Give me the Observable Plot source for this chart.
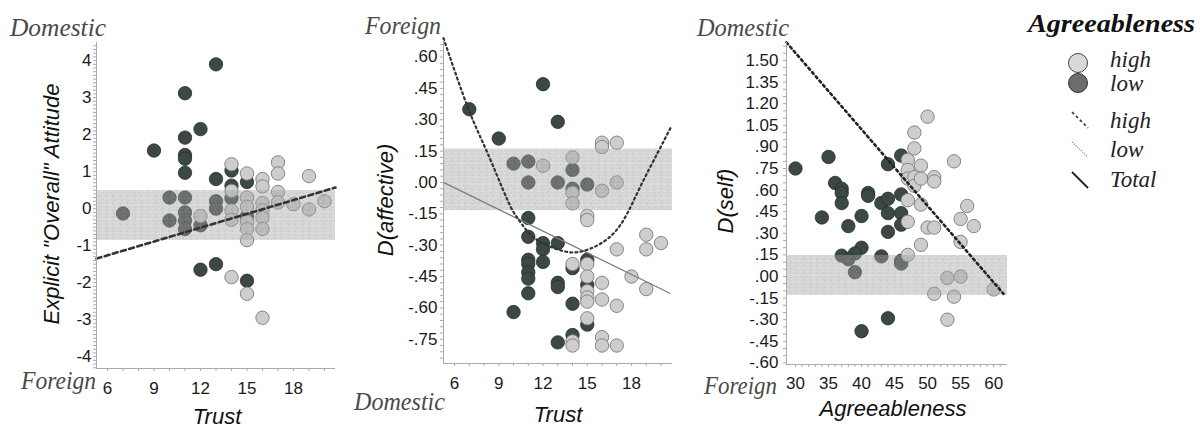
<!DOCTYPE html>
<html><head><meta charset="utf-8">
<script src="https://cdn.jsdelivr.net/npm/d3@7"></script>
<script src="https://cdn.jsdelivr.net/npm/@observablehq/plot@0.6"></script>
<style>
body{margin:0;background:#fff;}
#root{position:relative;width:1203px;height:429px;overflow:hidden;}
.panel{position:absolute;top:0;}
#overlay{position:absolute;left:0;top:0;pointer-events:none;}
#defs{position:absolute;left:0;top:0;}
</style></head><body><div id="root">
<svg id="defs" width="0" height="0"><defs>
<pattern id="speckle" patternUnits="userSpaceOnUse" width="7" height="7">
<rect width="7" height="7" fill="#a3a3a3"/>
<rect x="1" y="0" width="1" height="1" fill="#7e7e7e"/>
<rect x="4" y="2" width="1" height="1" fill="#c9c9c9"/>
<rect x="2" y="4" width="1" height="1" fill="#868686"/>
<rect x="5" y="5" width="1" height="1" fill="#c4c4c4"/>
<rect x="6" y="1" width="1" height="1" fill="#c0c0c0"/>
<rect x="0" y="6" width="1" height="1" fill="#8a8a8a"/>
<rect x="3" y="1" width="1" height="1" fill="#b8b8b8"/>
<rect x="5" y="3" width="1" height="1" fill="#8e8e8e"/>
</pattern></defs></svg>
</div>
<script>
// ---------- Panel 1: Trust vs Explicit "Overall" Attitude ----------
const attitudeLow = [[7,-0.13],[9,1.57],[10,0.3],[10,-0.32],[11,3.12],[11,1.92],[11,1.45],[11,1.35],[11,0.97],[11,0.3],[11,-0.1],[11,-0.32],[11,-0.55],[12,2.15],[12,-0.45],[12,-1.65],[13,3.9],[13,0.8],[13,0.2],[13,0.0],[13,-1.5],[14,1.03],[14,0.62],[14,0.28],[15,0.72],[15,-0.2],[15,-1.95]];
const attitudeHigh = [[12,-0.2],[14,1.2],[14,0.48],[14,-0.05],[14,-0.3],[14,-1.85],[15,0.95],[15,0.3],[15,0.05],[15,-0.35],[15,-0.55],[15,-0.85],[15,-2.3],[16,0.8],[16,0.6],[16,0.15],[16,-0.05],[16,-0.25],[16,-0.55],[16,-2.95],[17,1.25],[17,0.95],[17,0.45],[17,0.17],[18,0.12],[19,0.88],[19,-0.02],[20,0.2]];
const attitudeBand = [-0.86, 0.49];
const attitudeFit = [[5.29,-1.35],[20.71,0.57]];
const attitudeYTicks = [-4,-3,-2,-1,0,1,2,3,4];
const trustTicks = [6,9,12,15,18];

// ---------- Panel 2: Trust vs D(affective) ----------
const affectiveLow = [[7,0.35],[9,0.21],[10,0.09],[10,-0.62],[11,0.1],[11,0.0],[11,-0.17],[11,-0.26],[11,-0.37],[11,-0.39],[11,-0.43],[11,-0.46],[11,-0.53],[12,0.47],[12,-0.29],[12,-0.32],[12,-0.38],[13,0.29],[13,0.0],[13,-0.29],[13,-0.48],[13,-0.5],[13,-0.765],[14,0.06],[14,-0.03],[14,-0.41],[14,-0.58],[14,-0.73],[15,-0.01],[15,-0.37],[15,-0.49],[15,-0.68]];
const affectiveHigh = [[12,0.08],[14,0.12],[14,-0.05],[14,-0.1],[14,-0.39],[14,-0.76],[14,-0.78],[15,-0.16],[15,-0.18],[15,-0.39],[15,-0.45],[15,-0.52],[15,-0.55],[15,-0.57],[15,-0.65],[16,0.19],[16,0.17],[16,-0.04],[16,-0.48],[16,-0.56],[16,-0.74],[16,-0.78],[17,0.19],[17,0.0],[17,-0.32],[17,-0.59],[17,-0.78],[18,-0.45],[19,-0.25],[19,-0.32],[19,-0.51],[20,-0.29]];
const affectiveBand = [-0.135, 0.16];
const affectiveFitTotal = [[5.25,0.0],[20.6,-0.53]];
const affectiveFitCurve = [[5.25,0.69],[6.95,0.35],[8.24,0.14],[9.6,-0.086],[10.27,-0.17],[10.95,-0.235],[11.83,-0.285],[12.98,-0.32],[14.07,-0.335],[15.2,-0.317],[16.37,-0.27],[17.46,-0.18],[18.6,-0.02],[19.76,0.14],[20.64,0.26]];
const affectiveYTicks = [0.60,0.45,0.30,0.15,0,-0.15,-0.30,-0.45,-0.60,-0.75];

// ---------- Panel 3: Agreeableness vs D(self) ----------
const selfLow = [[30,0.75],[35,0.83],[36,0.65],[37,0.61],[37,0.58],[37,0.51],[34,0.41],[40,0.42],[41,0.58],[41,0.56],[43,0.51],[44,0.54],[44,0.78],[44,0.44],[46,0.84],[46,0.57],[46,0.44],[38,0.35],[44,0.31],[46,0.36],[40,0.2],[37,0.145],[39,0.16],[38,0.12],[43,0.14],[46,0.11],[46,0.09],[39,0.03],[44,-0.29],[40,-0.38]];
const selfHigh = [[47,0.81],[47,0.74],[47,0.68],[47,0.53],[48,1.0],[48,0.89],[48,0.69],[48,0.63],[49,0.77],[49,0.68],[49,0.5],[50,1.11],[51,0.69],[51,0.66],[54,0.8],[56,0.49],[55,0.4],[47,0.38],[50,0.34],[51,0.34],[57,0.35],[55,0.24],[49,0.22],[47,0.15],[53,-0.01],[55,0.0],[51,-0.12],[54,-0.14],[60,-0.09],[53,-0.3]];
const selfBand = [-0.13, 0.146];
const selfFit = [[28.64,1.625],[61.5,-0.12]];
const selfYTicks = [1.50,1.35,1.20,1.05,0.90,0.75,0.60,0.45,0.30,0.15,0,-0.15,-0.30,-0.45,-0.60];
const agreeTicks = [30,35,40,45,50,55,60];

const legendTitle = "Agreeableness";
const legendItems = ["high","low","high","low","Total"];

// ---------- helpers ----------
const decFmt = d => {
  const s = Math.abs(d).toFixed(2);
  return (d < -1e-9 ? "-" : "") + (s.startsWith("0.") ? s.slice(1) : s);
};
const seq = (a, b, step) => d3.range(Math.round((b - a) / step) + 1).map(i => +(a + i * step).toFixed(4));

function makePanel(cfg) {
  const [x0, x1] = cfg.xDomain, [y0, y1] = cfg.yDomain;
  const xy = {x: d => d[0], y: d => d[1]};
  const axisGray = "#a9a9a9";
  const svg = Plot.plot({
    width: cfg.width, height: 429,
    marginLeft: cfg.ml, marginRight: cfg.mr, marginTop: cfg.mt, marginBottom: cfg.mb,
    x: {domain: cfg.xDomain, axis: null},
    y: {domain: cfg.yDomain, axis: null},
    style: {background: "transparent", fontFamily: "'Liberation Sans', Arial, sans-serif", fontSize: "17px", color: "#1a1a1a", overflow: "visible"},
    marks: [
      Plot.dot(cfg.low, {...xy, r: 6.7, fill: "#3b4843", stroke: "#252e2b", strokeWidth: 0.8}),
      Plot.dot(cfg.high, {...xy, r: 6.7, fill: "#cdcdcd", stroke: "#7a7a7a", strokeWidth: 0.9}),
      Plot.rect([cfg.band], {x1: () => x0, x2: () => x1, y1: d => d[0], y2: d => d[1], fill: "url(#speckle)", fillOpacity: 0.45}),
      ...cfg.lines,
      Plot.ruleX([x0], {stroke: axisGray}),
      Plot.ruleY([y0], {stroke: axisGray}),
      Plot.axisY(cfg.minorY, {tickSize: 3, tickFormat: () => "", label: null, stroke: axisGray}),
      Plot.axisX(cfg.minorX, {tickSize: 3, tickFormat: () => "", label: null, stroke: axisGray}),
      Plot.axisY(cfg.yTicks, {tickSize: 0, tickPadding: cfg.yPad, tickFormat: cfg.yFmt, label: null}),
      Plot.axisX(cfg.xTicks, {tickSize: 0, tickPadding: cfg.xPad, tickFormat: d => String(d), label: null})
    ]
  });
  const div = document.createElement("div");
  div.className = "panel";
  div.style.left = cfg.left + "px";
  div.appendChild(svg);
  document.getElementById("root").appendChild(div);
}

makePanel({
  left: 0, width: 345, ml: 96, mr: 10, mt: 42, mb: 61,
  xDomain: [5.29, 20.71], yDomain: [-4.32, 4.49],
  low: attitudeLow, high: attitudeHigh, band: attitudeBand,
  lines: [Plot.line(attitudeFit, {x: d => d[0], y: d => d[1], stroke: "#333", strokeWidth: 2.6, strokeDasharray: "5,3.5"})],
  minorY: seq(-4.3, 4.4, 0.1), minorX: seq(6, 20, 1),
  yTicks: attitudeYTicks, yFmt: d => String(d), yPad: 5,
  xTicks: trustTicks, xPad: 13
});

makePanel({
  left: 345, width: 345, ml: 98, mr: 18, mt: 40, mb: 66,
  xDomain: [5.25, 20.78], yDomain: [-0.866, 0.679],
  low: affectiveLow, high: affectiveHigh, band: affectiveBand,
  lines: [
    Plot.line(affectiveFitTotal, {x: d => d[0], y: d => d[1], stroke: "#7d7d7d", strokeWidth: 1.3}),
    Plot.line(affectiveFitCurve, {x: d => d[0], y: d => d[1], curve: "natural", stroke: "#333", strokeWidth: 2.2, strokeDasharray: "2,3.2"})
  ],
  minorY: seq(-0.84, 0.66, 0.03), minorX: seq(6, 20, 1),
  yTicks: affectiveYTicks, yFmt: decFmt, yPad: 6,
  xTicks: trustTicks, xPad: 13
});

makePanel({
  left: 690, width: 330, ml: 96, mr: 13, mt: 42, mb: 65,
  xDomain: [28.64, 62.1], yDomain: [-0.611, 1.625],
  low: selfLow, high: selfHigh, band: selfBand,
  lines: [Plot.line(selfFit, {x: d => d[0], y: d => d[1], stroke: "#222", strokeWidth: 2.6, strokeDasharray: "2.2,3.4"})],
  minorY: seq(-0.6, 1.6, 0.05), minorX: seq(30, 61, 1),
  yTicks: selfYTicks, yFmt: decFmt, yPad: 8,
  xTicks: agreeTicks, xPad: 12
});

// ---------- overlay: axis titles, direction labels, legend ----------
const ov = d3.select("#root").append("svg").attr("id", "overlay").attr("width", 1203).attr("height", 429);
const serif = "'Liberation Serif', 'DejaVu Serif', serif";
const sans = "'Liberation Sans', Arial, sans-serif";

const dirLabels = [
  {t: "Domestic", x: 10, y: 36, w: 96},
  {t: "Foreign", x: 21, y: 389, w: 75},
  {t: "Foreign", x: 365, y: 34, w: 76},
  {t: "Domestic", x: 354, y: 410, w: 91},
  {t: "Domestic", x: 697, y: 36, w: 92},
  {t: "Foreign", x: 704, y: 394, w: 73}
];
ov.selectAll("text.dir").data(dirLabels).join("text").attr("class", "dir")
  .attr("x", d => d.x).attr("y", d => d.y).attr("textLength", d => d.w).attr("lengthAdjust", "spacingAndGlyphs")
  .attr("font-family", serif).attr("font-style", "italic").attr("font-size", 25).attr("fill", "#4a4a4a")
  .text(d => d.t);

const titles = [
  {t: "Trust", x: 217, y: 424, r: false},
  {t: "Trust", x: 558, y: 422, r: false},
  {t: "Agreeableness", x: 893, y: 416, r: false},
  {t: "Explicit \"Overall\" Attitude", x: 59, y: 204, r: true},
  {t: "D(affective)", x: 393, y: 200, r: true},
  {t: "D(self)", x: 733, y: 201, r: true}
];
ov.selectAll("text.title").data(titles).join("text").attr("class", "title")
  .attr("transform", d => `translate(${d.x},${d.y})` + (d.r ? " rotate(-90)" : ""))
  .attr("text-anchor", "middle")
  .attr("font-family", sans).attr("font-style", "italic").attr("font-size", 22).attr("fill", "#111")
  .text(d => d.t);

// legend
ov.append("text").attr("x", 1028).attr("y", 32).attr("textLength", 167).attr("lengthAdjust", "spacingAndGlyphs")
  .attr("font-family", serif).attr("font-style", "italic").attr("font-weight", "bold").attr("font-size", 25).attr("fill", "#111")
  .text(legendTitle);
const legY = [67, 91, 128, 157, 187];
ov.selectAll("text.leg").data(legendItems).join("text").attr("class", "leg")
  .attr("x", 1110).attr("y", (d, i) => legY[i])
  .attr("font-family", serif).attr("font-style", "italic").attr("font-size", 23).attr("fill", "#222")
  .text(d => d);
ov.append("circle").attr("cx", 1078).attr("cy", 63).attr("r", 9.5).attr("fill", "#d9d9d9").attr("stroke", "#444").attr("stroke-width", 1);
ov.append("circle").attr("cx", 1078).attr("cy", 83).attr("r", 9.5).attr("fill", "#6d6d6d").attr("stroke", "#333").attr("stroke-width", 1);
ov.append("line").attr("x1", 1072).attr("y1", 112).attr("x2", 1088).attr("y2", 128).attr("stroke", "#333").attr("stroke-width", 1.6).attr("stroke-dasharray", "3,2.5");
ov.append("line").attr("x1", 1072).attr("y1", 142).attr("x2", 1088).attr("y2", 157).attr("stroke", "#888").attr("stroke-width", 1.2).attr("stroke-dasharray", "1.2,1.2");
ov.append("line").attr("x1", 1072).attr("y1", 172).attr("x2", 1088).attr("y2", 188).attr("stroke", "#222").attr("stroke-width", 1.8);
</script>
</body></html>
